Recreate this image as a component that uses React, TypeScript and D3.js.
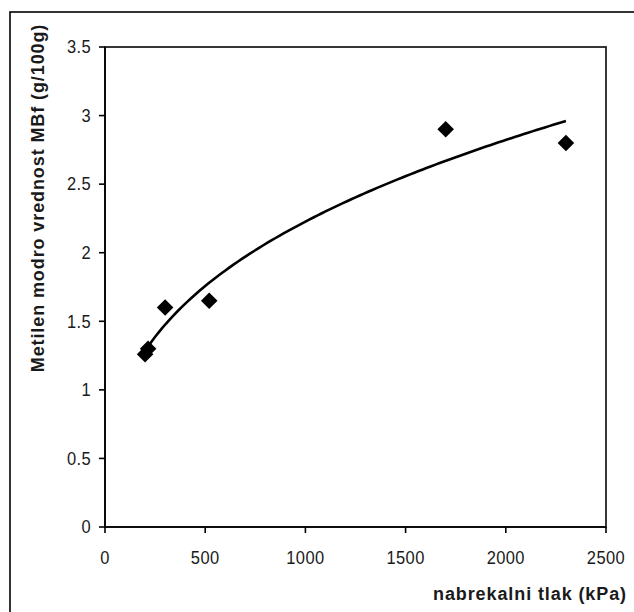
import React from "react";
import * as d3 from "d3";

const pressureKPa = [200, 215, 300, 520, 1700, 2300];
const mbfValues = [1.26, 1.3, 1.6, 1.65, 2.9, 2.8];
const xTicks = [0, 500, 1000, 1500, 2000, 2500];
const yTicks = [0, 0.5, 1, 1.5, 2, 2.5, 3, 3.5];
const xTitle = "nabrekalni tlak (kPa)";
const yTitle = "Metilen modro vrednost MBf (g/100g)";

const W = 634;
const H = 612;
const plot = { left: 105, right: 606, top: 47, bottom: 527 };

// power-law trendline (least squares in log space), as a spreadsheet trendline does
function powerFit(xs: number[], ys: number[]) {
  const lx = xs.map(Math.log);
  const ly = ys.map(Math.log);
  const mx = d3.mean(lx)!;
  const my = d3.mean(ly)!;
  let sxy = 0;
  let sxx = 0;
  lx.forEach((v, i) => {
    sxy += (v - mx) * (ly[i] - my);
    sxx += (v - mx) * (v - mx);
  });
  const b = sxy / sxx;
  const a = Math.exp(my - b * mx);
  return (x: number) => a * Math.pow(x, b);
}

export default function App() {
  const x = d3.scaleLinear().domain([0, 2500]).range([plot.left, plot.right]);
  const y = d3.scaleLinear().domain([0, 3.5]).range([plot.bottom, plot.top]);
  const f = powerFit(pressureKPa, mbfValues);
  const [xmin, xmax] = d3.extent(pressureKPa) as [number, number];
  const trend = d3.range(0, 101).map((i) => {
    const xv = xmin + ((xmax - xmin) * i) / 100;
    return [xv, f(xv)] as [number, number];
  });
  const line = d3
    .line<[number, number]>()
    .x((d) => x(d[0]))
    .y((d) => y(d[1]));
  const diamond = d3.symbol().type(d3.symbolDiamond2).size(175)();
  const font = "'Liberation Sans', Arial, sans-serif";
  const textColor = "#1a1a1a";

  return (
    <svg
      width={W}
      height={H}
      style={{ position: "absolute", left: 0, top: 0, background: "#fff" }}
    >
      <rect x={0} y={0} width={W} height={H} fill="#fff" />
      {/* outer chart frame */}
      <rect x={10} y={12} width={W + 20} height={H + 20} fill="none" stroke="#000" strokeWidth={1.6} />
      {/* plot area box */}
      <rect
        x={plot.left}
        y={plot.top}
        width={plot.right - plot.left}
        height={plot.bottom - plot.top}
        fill="none"
        stroke="#222"
        strokeWidth={1.8}
      />
      {/* y axis */}
      <line x1={plot.left} x2={plot.left} y1={plot.top} y2={plot.bottom} stroke="#000" strokeWidth={1.6} />
      {yTicks.map((t) => (
        <g key={"y" + t}>
          <line x1={plot.left - 6} x2={plot.left} y1={y(t)} y2={y(t)} stroke="#000" strokeWidth={1.6} />
          <text
            transform={`translate(${plot.left - 14},${y(t)}) scale(1,1.12)`}
            textAnchor="end"
            dominantBaseline="central"
            fontFamily={font}
            fontSize={16.5}
            letterSpacing={0.4}
            fill={textColor}
          >
            {String(t)}
          </text>
        </g>
      ))}
      {/* x axis */}
      <line x1={plot.left} x2={plot.right} y1={plot.bottom} y2={plot.bottom} stroke="#000" strokeWidth={1.6} />
      {xTicks.map((t) => (
        <g key={"x" + t}>
          <line x1={x(t)} x2={x(t)} y1={plot.bottom} y2={plot.bottom + 6} stroke="#000" strokeWidth={1.6} />
          <text
            transform={`translate(${x(t)},558) scale(1,1.12)`}
            textAnchor="middle"
            dominantBaseline="central"
            fontFamily={font}
            fontSize={16.5}
            letterSpacing={0.4}
            fill={textColor}
          >
            {String(t)}
          </text>
        </g>
      ))}
      {/* trendline */}
      <path d={line(trend) || ""} fill="none" stroke="#000" strokeWidth={2.6} />
      {/* data points */}
      {pressureKPa.map((p, i) => (
        <path key={"p" + i} d={diamond || ""} transform={`translate(${x(p)},${y(mbfValues[i])})`} fill="#000" />
      ))}
      {/* titles */}
      <text
        x={627}
        y={600}
        textAnchor="end"
        fontFamily={font}
        fontSize={18}
        fontWeight="bold"
        letterSpacing={0.9}
        fill={textColor}
      >
        {xTitle}
      </text>
      <text
        transform={`translate(38,198) rotate(-90)`}
        textAnchor="middle"
        dominantBaseline="central"
        fontFamily={font}
        fontSize={18}
        fontWeight="bold"
        letterSpacing={0.9}
        fill={textColor}
      >
        {yTitle}
      </text>
    </svg>
  );
}
